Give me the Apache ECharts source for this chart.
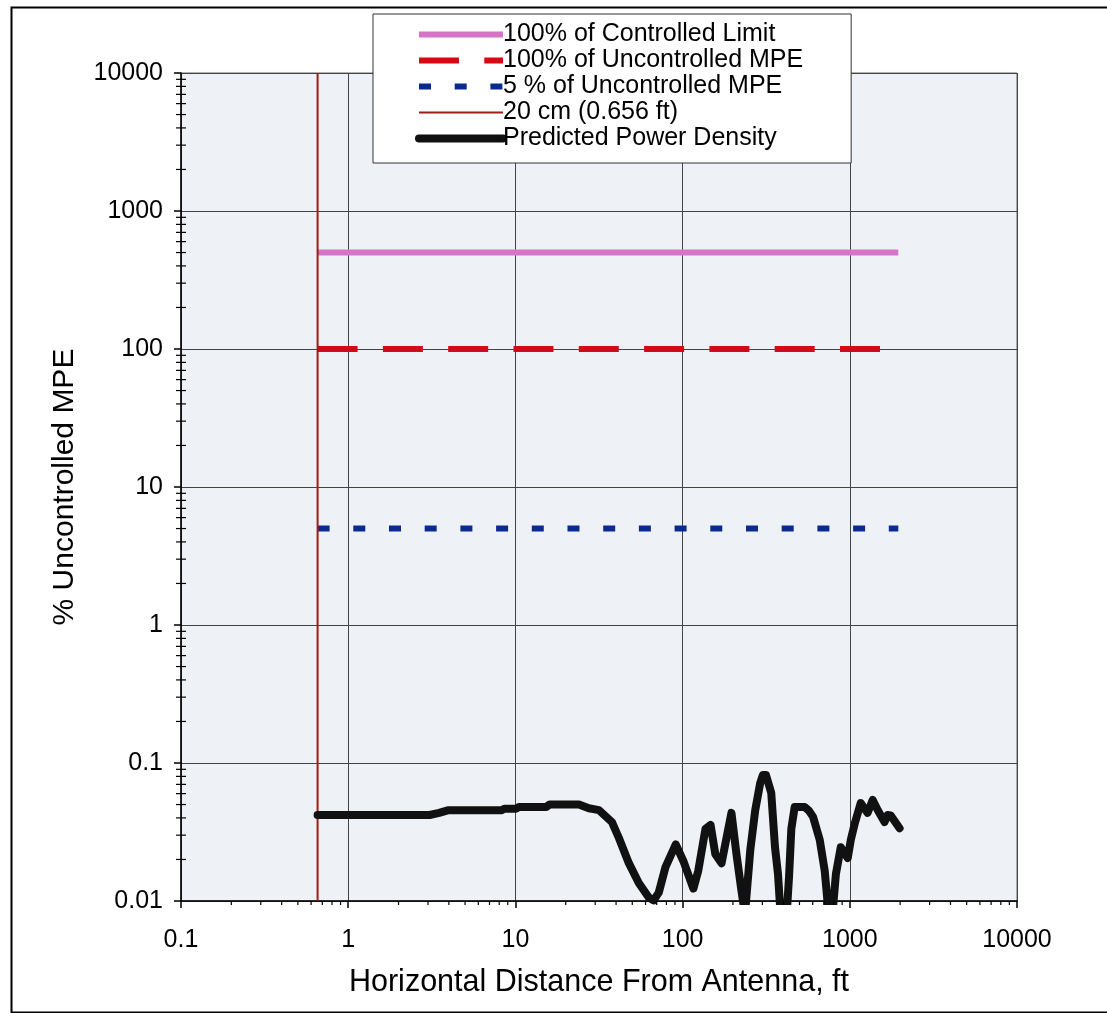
<!DOCTYPE html>
<html>
<head>
<meta charset="utf-8">
<script src="https://cdn.jsdelivr.net/npm/echarts@6/dist/echarts.min.js"></script>
<style>
html,body{margin:0;padding:0;background:#fff;}
#c{width:1107px;height:1013px;}
</style>
</head>
<body>
<div id="c"></div>
<script>
// ---- data ----
const xMin = 0.1, xMax = 10000;
const yMin = 0.01, yMax = 10000;
const xTickLabels = ['0.1', '1', '10', '100', '1000', '10000'];
const yTickLabels = ['0.01', '0.1', '1', '10', '100', '1000', '10000'];
const minorMultipliers = [2, 3, 4, 5, 6, 7, 8, 9];
const xDecades = [0.1, 1, 10, 100, 1000];
const yDecades = [0.01, 0.1, 1, 10, 100, 1000];

const seriesNames = [
  '100% of Controlled Limit',
  '100% of Uncontrolled MPE',
  '5 % of Uncontrolled MPE',
  '20 cm (0.656 ft)',
  'Predicted Power Density'
];
const controlledLimit = [[0.656, 500], [1950, 500]];
const uncontrolledMPE = [[0.656, 100], [1950, 100]];
const fivePctMPE = [[0.656, 5], [1950, 5]];
const distance20cm = [[0.656, 0.01], [0.656, 10000]];
const powerDensityX = [0.656, 1, 2, 3.07, 3.5, 3.94, 5, 8.3, 8.6, 10.1, 10.5, 15.3, 16, 24, 27.5, 31.6,
  37.8, 41.6, 47.7, 54.7, 62.8, 67, 72, 79, 91, 101, 116, 124, 137, 147, 157, 171, 183, 196, 210, 224,
  236, 241, 254, 272, 291, 302, 315, 339, 357, 372, 383, 422, 433, 447, 468, 537, 570, 603, 661, 708,
  741, 794, 826, 883, 972, 1014, 1072, 1162, 1220, 1278, 1371, 1468, 1614, 1680, 1754, 1985];
const powerDensityY = [0.042, 0.042, 0.042, 0.042, 0.0435, 0.0454, 0.0455, 0.0455, 0.0467, 0.0467, 0.048, 0.048, 0.050, 0.050, 0.047, 0.0456,
  0.0373, 0.0286, 0.0188, 0.0135, 0.0106, 0.0101, 0.0115, 0.0176, 0.0257, 0.0195, 0.0123, 0.0165, 0.0333, 0.0356, 0.0218, 0.0188, 0.0286, 0.0435, 0.0218, 0.0123,
  0.008, 0.008, 0.0234, 0.0456, 0.0714, 0.0818, 0.082, 0.0607, 0.0245, 0.0157, 0.009, 0.009, 0.0149, 0.0333, 0.048, 0.048, 0.045, 0.0407, 0.0277, 0.0165,
  0.009, 0.009, 0.0157, 0.0245, 0.0205, 0.0277, 0.0367, 0.0513, 0.047, 0.0435, 0.054, 0.0457, 0.0373, 0.042, 0.0417, 0.0337];

// ---- build ----
const powerDensity = powerDensityX.map((x, i) => [x, powerDensityY[i]]);
const xMinorTicks = [];
xDecades.forEach(d => minorMultipliers.forEach(m => xMinorTicks.push([m * d, yMin])));
const yMinorTicks = [];
yDecades.forEach(d => minorMultipliers.forEach(m => yMinorTicks.push([xMin, m * d])));

const FONT = '"Liberation Sans", Arial, sans-serif';
const styles = [
  {color: '#d674c8', width: 6, type: 'solid', cap: 'butt'},
  {color: '#d40a14', width: 6, type: [40, 25.3], cap: 'butt'},
  {color: '#0a2a8f', width: 6, type: [12, 23.7], cap: 'butt'},
  {color: '#9a1f14', width: 2, type: 'solid', cap: 'butt'},
  {color: '#111111', width: 8, type: 'solid', cap: 'round', join: 'round'}
];
const chart = echarts.init(document.getElementById('c'), null, {renderer: 'canvas'});

const option = {
  backgroundColor: '#ffffff',
  animation: false,
  textStyle: {fontFamily: FONT, color: '#000'},
  graphic: [{
    type: 'rect', left: 9, top: 5, z: 100, silent: true,
    shape: {width: 1110, height: 1005},
    style: {fill: 'none', stroke: '#000', lineWidth: 2}
  }],
  grid: {
    left: 181, right: 90, top: 73, bottom: 112,
    show: true, backgroundColor: '#eef2f7', borderColor: '#666', borderWidth: 1
  },
  legend: {
    left: 373, top: 14, orient: 'vertical',
    backgroundColor: '#ffffff', borderColor: '#333', borderWidth: 1,
    padding: [8, 48, 12, 42],
    itemWidth: 84, itemHeight: 14, itemGap: 1,
    textStyle: {fontFamily: FONT, fontSize: 25, color: '#000', padding: [0, 0, 0, -5]},
    data: seriesNames.map((n, i) => ({
      name: n,
      itemStyle: {opacity: 0},
      lineStyle: Object.assign({}, styles[i])
    })),
    z: 50
  },
  xAxis: {
    type: 'log', logBase: 10, min: xMin, max: xMax,
    name: 'Horizontal Distance From Antenna, ft',
    nameLocation: 'middle', nameGap: 66,
    nameTextStyle: {fontFamily: FONT, fontSize: 30.5, color: '#000'},
    axisLine: {show: true, onZero: false, lineStyle: {color: '#000', width: 1.5}},
    axisTick: {show: true, inside: false, length: 7, lineStyle: {color: '#000', width: 1.5}},
    axisLabel: {
      fontFamily: FONT, fontSize: 25, color: '#000', margin: 27,
      formatter: v => xTickLabels[Math.round(Math.log10(v)) + 1]
    },
    splitLine: {show: true, lineStyle: {color: '#444', width: 1}}
  },
  yAxis: {
    type: 'log', logBase: 10, min: yMin, max: yMax,
    name: '% Uncontrolled MPE',
    nameLocation: 'middle', nameGap: 101,
    nameTextStyle: {fontFamily: FONT, fontSize: 30, color: '#000'},
    axisLine: {show: true, onZero: false, lineStyle: {color: '#000', width: 1.5}},
    axisTick: {show: true, inside: false, length: 7, lineStyle: {color: '#000', width: 1.5}},
    axisLabel: {
      fontFamily: FONT, fontSize: 25, color: '#000', margin: 18,
      formatter: v => yTickLabels[Math.round(Math.log10(v)) + 2]
    },
    splitLine: {show: true, lineStyle: {color: '#444', width: 1}}
  },
  series: [
    {
      name: seriesNames[0], type: 'line', data: controlledLimit, symbol: 'none',
      lineStyle: styles[0], itemStyle: {color: styles[0].color}, z: 3
    },
    {
      name: seriesNames[1], type: 'line', data: uncontrolledMPE, symbol: 'none',
      lineStyle: styles[1], itemStyle: {color: styles[1].color}, z: 3
    },
    {
      name: seriesNames[2], type: 'line', data: fivePctMPE, symbol: 'none',
      lineStyle: styles[2], itemStyle: {color: styles[2].color}, z: 3
    },
    {
      name: seriesNames[3], type: 'line', data: distance20cm, symbol: 'none',
      lineStyle: styles[3], itemStyle: {color: styles[3].color}, z: 4
    },
    {
      name: seriesNames[4], type: 'line', data: powerDensity, symbol: 'none', clip: true,
      lineStyle: styles[4], itemStyle: {color: styles[4].color}, z: 5
    },
    {
      name: 'xMinor', type: 'custom', data: xMinorTicks, silent: true, z: 6,
      renderItem: (params, api) => {
        const p = api.coord([api.value(0), api.value(1)]);
        return {type: 'line', shape: {x1: p[0], y1: p[1], x2: p[0], y2: p[1] + 4},
          style: {stroke: '#000', lineWidth: 1.2}};
      }
    },
    {
      name: 'yMinor', type: 'custom', data: yMinorTicks, silent: true, z: 6,
      renderItem: (params, api) => {
        const p = api.coord([api.value(0), api.value(1)]);
        return {type: 'line', shape: {x1: p[0] - 5, y1: p[1], x2: p[0] + 5, y2: p[1]},
          style: {stroke: '#000', lineWidth: 1.2}};
      }
    }
  ]
};
chart.setOption(option);
</script>
</body>
</html>
